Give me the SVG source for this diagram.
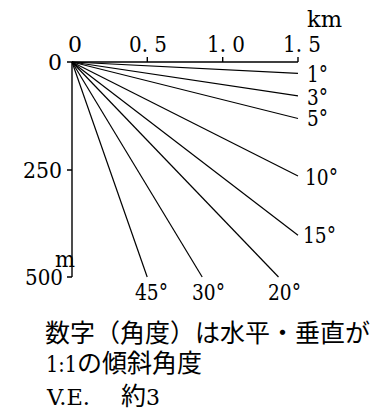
<svg xmlns="http://www.w3.org/2000/svg" width="380" height="417" viewBox="0 0 380 417">
<style>
.ax{stroke:#000;stroke-width:1.4;fill:none}
.ln{stroke:#000;stroke-width:1.2;fill:none}
text{fill:#000}
.a{font-family:'DejaVu Serif',serif;font-size:22px}
.c{font-family:'Noto Sans CJK JP',sans-serif;font-size:25px}
.s{font-family:'DejaVu Serif',serif;font-size:22px}
</style>
<rect width="380" height="417" fill="#fff"/>
<g id="axes">
<path class="ax" d="M72,62 H298 M72,62 V277 M147.3,57 V62 M222.7,57 V62 M298,57 V62 M67,62 H72 M67,170 H72 M67,277 H72"/>
</g>
<g id="connectors">
<line class="ln" x1="72" y1="62" x2="298" y2="73.3"/>
<line class="ln" x1="72" y1="62" x2="298" y2="95.9"/>
<line class="ln" x1="72" y1="62" x2="298" y2="118.5"/>
<line class="ln" x1="72" y1="62" x2="298" y2="176"/>
<line class="ln" x1="72" y1="62" x2="298" y2="235.2"/>
<line class="ln" x1="72" y1="62" x2="278.5" y2="277"/>
<line class="ln" x1="72" y1="62" x2="202.2" y2="277"/>
<line class="ln" x1="72" y1="62" x2="147.2" y2="277"/>
</g>
<g id="axis-labels">
<text class="a" x="307" y="27" textLength="35" lengthAdjust="spacingAndGlyphs">km</text>
<text class="a" x="68" y="52">0</text>
<text class="a" x="129" y="52" textLength="38" lengthAdjust="spacingAndGlyphs">0. 5</text>
<text class="a" x="207" y="52" textLength="38" lengthAdjust="spacingAndGlyphs">1. 0</text>
<text class="a" x="283" y="52" textLength="38" lengthAdjust="spacingAndGlyphs">1. 5</text>
<text class="a" x="48" y="70">0</text>
<text class="a" x="23" y="178" textLength="39" lengthAdjust="spacingAndGlyphs">250</text>
<text class="a" x="25" y="285" textLength="38" lengthAdjust="spacingAndGlyphs">500</text>
<text class="a" x="55" y="267" textLength="20" lengthAdjust="spacingAndGlyphs">m</text>
</g>
<g id="angle-labels">
<text class="a" x="307" y="82" textLength="21" lengthAdjust="spacingAndGlyphs">1°</text>
<text class="a" x="307" y="105" textLength="21" lengthAdjust="spacingAndGlyphs">3°</text>
<text class="a" x="307" y="126" textLength="21" lengthAdjust="spacingAndGlyphs">5°</text>
<text class="a" x="305" y="185" textLength="33" lengthAdjust="spacingAndGlyphs">10°</text>
<text class="a" x="303" y="243" textLength="33" lengthAdjust="spacingAndGlyphs">15°</text>
<text class="a" x="135" y="300" textLength="33" lengthAdjust="spacingAndGlyphs">45°</text>
<text class="a" x="192" y="300" textLength="33" lengthAdjust="spacingAndGlyphs">30°</text>
<text class="a" x="268" y="300" textLength="33" lengthAdjust="spacingAndGlyphs">20°</text>
</g>
<g id="note">
<text class="c" x="45" y="342">数字（角度）は水平・垂直が</text>
<text class="s" x="46" y="372" textLength="31" lengthAdjust="spacingAndGlyphs">1:1</text>
<text class="c" x="77" y="372">の傾斜角度</text>
<text class="s" x="47" y="405" textLength="43" lengthAdjust="spacingAndGlyphs">V.E.</text>
<text class="c" x="121" y="405">約<tspan class="s">3</tspan></text>
</g>
</svg>
